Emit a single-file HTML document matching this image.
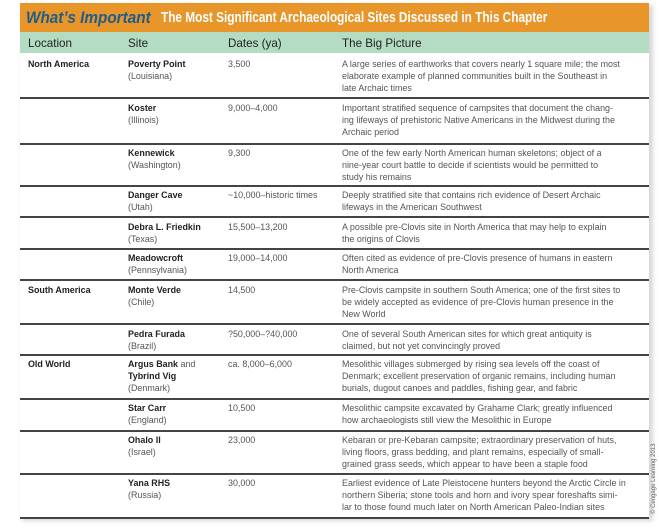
<!DOCTYPE html>
<html><head><meta charset="utf-8"><style>
body{margin:0;width:659px;height:532px;background:#fff;position:relative;overflow:hidden;font-family:"Liberation Sans",sans-serif;}
.a{position:absolute;}
.t{position:absolute;font-size:9.2px;line-height:12px;white-space:nowrap;transform:scaleX(0.97);transform-origin:0 0;color:#555;}
.b{color:#222;font-weight:bold;}
.hl{position:absolute;left:20px;width:629px;height:1.5px;background:#444;}
</style></head><body>
<div class="a" style="left:22px;top:5px;width:631px;height:516px;background:#d8d8d8;filter:blur(2px)"></div>
<div class="a" style="left:20px;top:3px;width:629px;height:514px;background:#fff"></div>
<div class="a" style="left:20px;top:3px;width:629px;height:29px;background:#e8962a"></div>
<div class="t" style="left:26px;top:9px;font-size:17px;line-height:18px;font-weight:bold;font-style:italic;color:#1d5d8c;transform:scaleX(0.9)">What’s Important</div>
<div class="t" style="left:161px;top:10px;font-size:14.5px;line-height:16px;font-weight:bold;color:#fff;transform:scaleX(0.815)">The Most Significant Archaeological Sites Discussed in This Chapter</div>
<div class="a" style="left:20px;top:32px;width:629px;height:21px;background:#b3dcc2"></div>
<div class="t b" style="left:28px;top:37px;font-size:12px;font-weight:normal;color:#222">Location</div>
<div class="t b" style="left:128px;top:37px;font-size:12px;font-weight:normal;color:#222">Site</div>
<div class="t b" style="left:228px;top:37px;font-size:12px;font-weight:normal;color:#222">Dates (ya)</div>
<div class="t b" style="left:342px;top:37px;font-size:12px;font-weight:normal;color:#222">The Big Picture</div>

<div class="hl" style="top:97px"></div>
<div class="hl" style="top:143px"></div>
<div class="hl" style="top:185px"></div>
<div class="hl" style="top:216px"></div>
<div class="hl" style="top:248px"></div>
<div class="hl" style="top:279px"></div>
<div class="hl" style="top:323px"></div>
<div class="hl" style="top:354px"></div>
<div class="hl" style="top:398px"></div>
<div class="hl" style="top:430px"></div>
<div class="hl" style="top:473px"></div>
<div class="hl" style="top:517px"></div>

<div class="t b" style="left:28px;top:58px">North America</div>
<div class="t" style="left:128px;top:58px"><span class="b">Poverty Point</span><br>(Louisiana)</div>
<div class="t" style="left:228px;top:58px">3,500</div>
<div class="t" style="left:342px;top:58px">A large series of earthworks that covers nearly 1 square mile; the most<br>elaborate example of planned communities built in the Southeast in<br>late Archaic times</div>

<div class="t" style="left:128px;top:102px"><span class="b">Koster</span><br>(Illinois)</div>
<div class="t" style="left:228px;top:102px">9,000–4,000</div>
<div class="t" style="left:342px;top:102px">Important stratified sequence of campsites that document the chang-<br>ing lifeways of prehistoric Native Americans in the Midwest during the<br>Archaic period</div>

<div class="t" style="left:128px;top:147px"><span class="b">Kennewick</span><br>(Washington)</div>
<div class="t" style="left:228px;top:147px">9,300</div>
<div class="t" style="left:342px;top:147px">One of the few early North American human skeletons; object of a<br>nine-year court battle to decide if scientists would be permitted to<br>study his remains</div>

<div class="t" style="left:128px;top:189px"><span class="b">Danger Cave</span><br>(Utah)</div>
<div class="t" style="left:228px;top:189px">~10,000–historic times</div>
<div class="t" style="left:342px;top:189px">Deeply stratified site that contains rich evidence of Desert Archaic<br>lifeways in the American Southwest</div>

<div class="t" style="left:128px;top:221px"><span class="b">Debra L. Friedkin</span><br>(Texas)</div>
<div class="t" style="left:228px;top:221px">15,500–13,200</div>
<div class="t" style="left:342px;top:221px">A possible pre-Clovis site in North America that may help to explain<br>the origins of Clovis</div>

<div class="t" style="left:128px;top:252px"><span class="b">Meadowcroft</span><br>(Pennsylvania)</div>
<div class="t" style="left:228px;top:252px">19,000–14,000</div>
<div class="t" style="left:342px;top:252px">Often cited as evidence of pre-Clovis presence of humans in eastern<br>North America</div>

<div class="t b" style="left:28px;top:284px">South America</div>
<div class="t" style="left:128px;top:284px"><span class="b">Monte Verde</span><br>(Chile)</div>
<div class="t" style="left:228px;top:284px">14,500</div>
<div class="t" style="left:342px;top:284px">Pre-Clovis campsite in southern South America; one of the first sites to<br>be widely accepted as evidence of pre-Clovis human presence in the<br>New World</div>

<div class="t" style="left:128px;top:328px"><span class="b">Pedra Furada</span><br>(Brazil)</div>
<div class="t" style="left:228px;top:328px">?50,000–?40,000</div>
<div class="t" style="left:342px;top:328px">One of several South American sites for which great antiquity is<br>claimed, but not yet convincingly proved</div>

<div class="t b" style="left:28px;top:358px">Old World</div>
<div class="t" style="left:128px;top:358px"><span class="b">Argus Bank</span> and<br><span class="b">Tybrind Vig</span><br>(Denmark)</div>
<div class="t" style="left:228px;top:358px">ca. 8,000–6,000</div>
<div class="t" style="left:342px;top:358px">Mesolithic villages submerged by rising sea levels off the coast of<br>Denmark; excellent preservation of organic remains, including human<br>burials, dugout canoes and paddles, fishing gear, and fabric</div>

<div class="t" style="left:128px;top:402px"><span class="b">Star Carr</span><br>(England)</div>
<div class="t" style="left:228px;top:402px">10,500</div>
<div class="t" style="left:342px;top:402px">Mesolithic campsite excavated by Grahame Clark; greatly influenced<br>how archaeologists still view the Mesolithic in Europe</div>

<div class="t" style="left:128px;top:434px"><span class="b">Ohalo II</span><br>(Israel)</div>
<div class="t" style="left:228px;top:434px">23,000</div>
<div class="t" style="left:342px;top:434px">Kebaran or pre-Kebaran campsite; extraordinary preservation of huts,<br>living floors, grass bedding, and plant remains, especially of small-<br>grained grass seeds, which appear to have been a staple food</div>

<div class="t" style="left:128px;top:477px"><span class="b">Yana RHS</span><br>(Russia)</div>
<div class="t" style="left:228px;top:477px">30,000</div>
<div class="t" style="left:342px;top:477px">Earliest evidence of Late Pleistocene hunters beyond the Arctic Circle in<br>northern Siberia; stone tools and horn and ivory spear foreshafts simi-<br>lar to those found much later on North American Paleo-Indian sites</div>

<div class="a" style="left:651px;top:514px;font-size:6px;line-height:7px;white-space:nowrap;color:#666;transform:rotate(-90deg);transform-origin:0 0">© Cengage Learning 2013</div>
</body></html>
